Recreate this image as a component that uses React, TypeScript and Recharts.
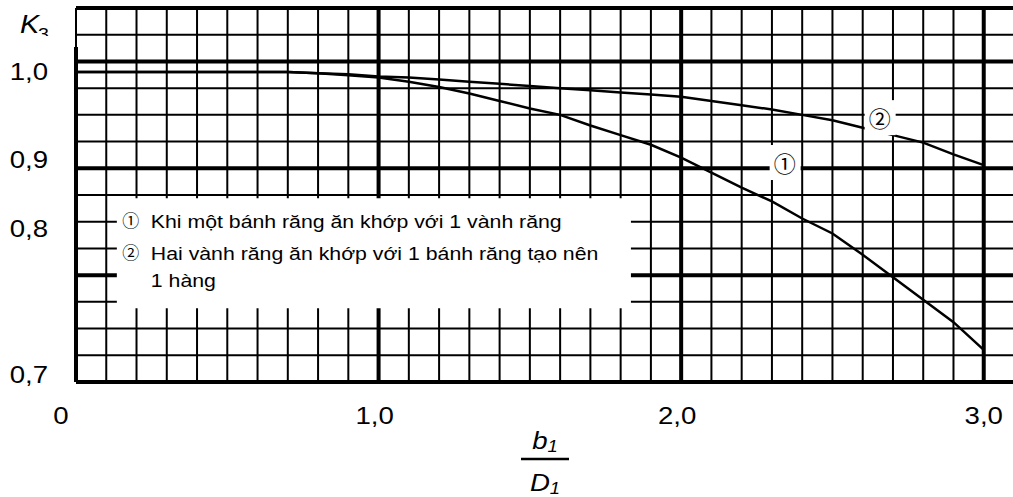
import React from 'react';
import { LineChart, Line, XAxis, YAxis, ReferenceLine, ReferenceArea, ReferenceDot } from 'recharts';

// ---- data ----
const ratioValues = [0, 0.1, 0.2, 0.3, 0.4, 0.5, 0.6, 0.7, 0.8, 0.9, 1.0, 1.1, 1.2, 1.3, 1.4, 1.5, 1.6, 1.7, 1.8, 1.9, 2.0, 2.1, 2.2, 2.3, 2.4, 2.5, 2.6, 2.7, 2.8, 2.9, 3.0];
const curve1Values = [0.99, 0.99, 0.99, 0.99, 0.99, 0.99, 0.99, 0.99, 0.989, 0.987, 0.985, 0.981, 0.976, 0.97, 0.963, 0.956, 0.95, 0.94, 0.931, 0.922, 0.91, 0.896, 0.882, 0.869, 0.853, 0.839, 0.819, 0.798, 0.777, 0.756, 0.73];
const curve2Values = [0.99, 0.99, 0.99, 0.99, 0.99, 0.99, 0.99, 0.99, 0.989, 0.988, 0.986, 0.985, 0.983, 0.981, 0.979, 0.977, 0.975, 0.973, 0.971, 0.969, 0.967, 0.963, 0.959, 0.955, 0.95, 0.945, 0.938, 0.931, 0.924, 0.913, 0.903];

const xTickValues = [0, 1, 2, 3];
const xTickLabels = ['0', '1,0', '2,0', '3,0'];
const yTickValues = [0.7, 0.8, 0.9, 1.0];
const yTickLabels = ['0,7', '0,8', '0,9', '1,0'];

const xGridMinor = [0, 0.1, 0.2, 0.3, 0.4, 0.5, 0.6, 0.7, 0.8, 0.9, 1.1, 1.2, 1.3, 1.4, 1.5, 1.6, 1.7, 1.8, 1.9, 2.1, 2.2, 2.3, 2.4, 2.5, 2.6, 2.7, 2.8, 2.9];
const xGridMajor = [1, 2, 3];
const yGridMinor = [0.725, 0.75, 0.775, 0.825, 0.85, 0.875, 0.925, 0.95, 0.975, 1.025];
const yGridMajor = [0.7, 0.8, 0.9, 1.0, 1.05];

const legendMarks = ['\u2460', '\u2461', ''];
const legendLines = ['Khi một bánh răng ăn khớp với 1 vành răng', 'Hai vành răng ăn khớp với 1 bánh răng tạo nên', '1 hàng'];
const legendBox = { x1: 0.135, x2: 1.834, y1: 0.769, y2: 0.872 };
const curveMarkers = [
  { x: 2.342, y: 0.904, label: '\u2460' },
  { x: 2.656, y: 0.946, label: '\u2461' },
];
const axisTopOfThickLine = 1.0135;

const chartData = ratioValues.map((r, i) => ({ ratio: r, c1: curve1Values[i], c2: curve2Values[i] }));

// ---- styling ----
const FONT = '"Liberation Sans", Arial, sans-serif';
const MARK_FONT = '"Noto Sans CJK JP", "DejaVu Sans", sans-serif';
const INK = '#000';
const STRETCH = 1.15;
const THIN = 2;
const THICK = 4;

function SText(props: any) {
  const { x, y, anchor = 'start', size, italic, children, family } = props;
  return (
    <text
      transform={`translate(${x},${y}) scale(${STRETCH},1)`}
      x={0}
      y={0}
      textAnchor={anchor}
      fontSize={size}
      fontStyle={italic ? 'italic' : 'normal'}
      fontFamily={family || FONT}
      fill={INK}
    >
      {children}
    </text>
  );
}

const xTickShift: Record<string, number> = { '0': -15, '1,0': -4, '2,0': -4, '3,0': 0 };
function XTick(props: any) {
  const { x, y, payload } = props;
  const idx = xTickValues.indexOf(payload.value);
  const label = idx >= 0 ? xTickLabels[idx] : '';
  return (
    <SText x={x + (xTickShift[label] || 0)} y={y + 42} anchor="middle" size={24}>
      {label}
    </SText>
  );
}

const yTickShift: Record<string, number> = { '1,0': 18.6, '0,9': -0.3, '0,8': -38, '0,7': 1 };
function YTick(props: any) {
  const { x, y, payload } = props;
  const idx = yTickValues.findIndex((v) => Math.abs(v - payload.value) < 1e-9);
  const label = idx >= 0 ? yTickLabels[idx] : '';
  return (
    <SText x={x - 28} y={y + (yTickShift[label] || 0)} anchor="end" size={24}>
      {label}
    </SText>
  );
}

function K3Label(props: any) {
  const vb = props.viewBox || { x: 0, y: 8 };
  return (
    <g>
      <defs>
        <clipPath id="k3clip">
          <rect x={vb.x} y={0} width={70} height={36} />
        </clipPath>
      </defs>
      <SText x={vb.x + 20} y={33} size={25} italic>
        K
      </SText>
      <g clipPath="url(#k3clip)">
        <SText x={vb.x + 38} y={40} size={17}>
          3
        </SText>
      </g>
    </g>
  );
}

function FractionLabel(props: any) {
  const vb = props.viewBox || { x: 76, y: 382, width: 938 };
  const cx = vb.x + vb.width / 2;
  const top = vb.y;
  return (
    <g>
      <text transform={`translate(${cx},${top + 67}) scale(${STRETCH},1)`} textAnchor="middle" fontFamily={FONT} fill={INK}>
        <tspan fontSize={24} fontStyle="italic">b</tspan>
        <tspan fontSize={16} fontStyle="italic" dy={3}>1</tspan>
      </text>
      <line x1={cx - 24} x2={cx + 24} y1={top + 77} y2={top + 77} stroke={INK} strokeWidth={2.5} />
      <text transform={`translate(${cx},${top + 109}) scale(${STRETCH},1)`} textAnchor="middle" fontFamily={FONT} fill={INK}>
        <tspan fontSize={24} fontStyle="italic">D</tspan>
        <tspan fontSize={16} fontStyle="italic" dy={3}>1</tspan>
      </text>
    </g>
  );
}

function LegendText(props: any) {
  const vb = props.viewBox || { x: 117, y: 198 };
  const baselines = [30, 62, 89];
  return (
    <g>
      {legendLines.map((line, i) => (
        <g key={i}>
          {legendMarks[i] ? (
            <text x={vb.x + 14} y={vb.y + baselines[i] - 1} textAnchor="middle" fontSize={17} fontFamily={MARK_FONT} fill={INK}>
              {legendMarks[i]}
            </text>
          ) : null}
          <SText x={vb.x + 34} y={vb.y + baselines[i]} size={18.5}>
            {line}
          </SText>
        </g>
      ))}
    </g>
  );
}

function MarkerShape(label: string) {
  return (props: any) => {
    const { cx, cy } = props;
    return (
      <g>
        <rect x={cx - 15} y={cy - 19} width={31} height={35} fill="#fff" />
        <text x={cx} y={cy + 8} textAnchor="middle" fontSize={22} fontFamily={MARK_FONT} fill={INK}>
          {label}
        </text>
      </g>
    );
  };
}

export default function App() {
  return (
    <div style={{ position: 'absolute', left: 0, top: 0, width: 1013, height: 497, overflow: 'hidden', background: '#fff' }}>
      <LineChart width={1014} height={497} data={chartData} margin={{ top: 8, right: 0, bottom: 75, left: 0 }}>
        <XAxis
          dataKey="ratio"
          type="number"
          domain={[0, 3.1]}
          allowDataOverflow
          ticks={xTickValues}
          interval={0}
          tick={<XTick />}
          tickLine={false}
          axisLine={false}
          tickSize={0}
          tickMargin={0}
          height={40}
          label={<FractionLabel />}
        />
        <YAxis
          type="number"
          domain={[0.7, 1.05]}
          allowDataOverflow
          ticks={yTickValues}
          interval={0}
          tick={<YTick />}
          tickLine={false}
          axisLine={false}
          tickSize={0}
          tickMargin={0}
          width={76}
          label={<K3Label />}
        />
        {xGridMinor.map((v) => (
          <ReferenceLine key={'xm' + v} x={v} stroke={INK} strokeWidth={THIN} zIndex={100} />
        ))}
        {yGridMinor.map((v) => (
          <ReferenceLine key={'ym' + v} y={v} stroke={INK} strokeWidth={THIN} zIndex={100} />
        ))}
        {xGridMajor.map((v) => (
          <ReferenceLine key={'xM' + v} x={v} stroke={INK} strokeWidth={THICK} zIndex={110} />
        ))}
        {yGridMajor.map((v) => (
          <ReferenceLine key={'yM' + v} y={v} stroke={INK} strokeWidth={THICK} zIndex={110} />
        ))}
        <ReferenceLine
          segment={[{ x: 0, y: 0.7 }, { x: 0, y: axisTopOfThickLine }]}
          stroke={INK}
          strokeWidth={THICK}
          zIndex={110}
        />
        <ReferenceArea
          x1={legendBox.x1}
          x2={legendBox.x2}
          y1={legendBox.y1}
          y2={legendBox.y2}
          fill="#fff"
          fillOpacity={1}
          stroke="none"
          zIndex={200}
          label={<LegendText />}
        />
        <Line dataKey="c1" type="linear" stroke={INK} strokeWidth={2.5} dot={false} isAnimationActive={false} zIndex={300} />
        <Line dataKey="c2" type="linear" stroke={INK} strokeWidth={2.5} dot={false} isAnimationActive={false} zIndex={300} />
        {curveMarkers.map((m) => (
          <ReferenceDot key={m.label} x={m.x} y={m.y} r={0} shape={MarkerShape(m.label)} zIndex={400} />
        ))}
      </LineChart>
    </div>
  );
}
